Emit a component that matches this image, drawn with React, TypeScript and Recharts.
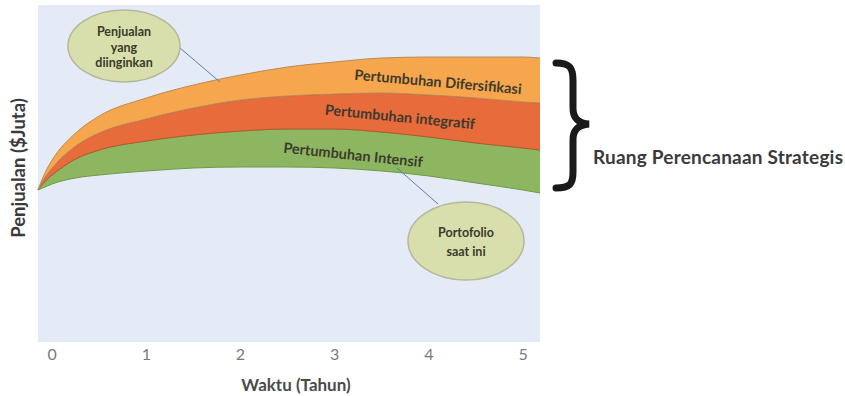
import React from "react";
import { AreaChart, Area, XAxis, YAxis, CartesianGrid } from "recharts";

// tahun (x) dan penjualan (y, satuan relatif) tiap batas pita
const years = [-0.15, -0.1, -0.05, 0, 0.25, 0.5, 1, 1.5, 2, 2.5, 3, 3.5, 4, 4.5, 5, 5.18];
const portofolioSaatIni = [152, 154, 156, 158, 164, 167, 171, 174, 175, 175, 174, 171, 166, 159, 152, 149];
const intensif = [152, 158, 163, 167, 183, 192, 201, 207, 211, 213, 213, 210, 205, 199, 194, 192];
const integratif = [152, 161, 168, 174, 196, 209, 223, 234, 242, 246, 248, 249, 247, 244, 240, 239];
const diversifikasi = [152, 164, 174, 182, 209, 226, 244, 257, 267, 275, 280, 284, 285, 285, 285, 284];
const xTicks = [0, 1, 2, 3, 4, 5];

const chartData = years.map((t, i) => ({
  tahun: t,
  hijau: [portofolioSaatIni[i], intensif[i]],
  merah: [intensif[i], integratif[i]],
  oranye: [integratif[i], diversifikasi[i]],
}));

const FONT = "Lato, 'Open Sans', sans-serif";

export default function App() {
  return (
    <div style={{ position: "absolute", left: 0, top: 0, width: 845, height: 396, background: "#fff" }}>
      <AreaChart
        width={845}
        height={396}
        data={chartData}
        margin={{ top: 5, left: 38, right: 305, bottom: 24 }}
      >
        <CartesianGrid horizontal={false} vertical={false} fill="#e4ebf6" />
        <XAxis
          dataKey="tahun"
          type="number"
          domain={[-0.15, 5.18]}
          ticks={xTicks}
          axisLine={false}
          tickLine={false}
          tickMargin={1}
          height={30}
          tick={{ fill: "#7a7a7a", fontSize: 16, fontFamily: FONT }}
        />
        <YAxis hide domain={[0, 337]} />
        <Area
          type="monotone"
          dataKey="hijau"
          fill="#8cb65f"
          fillOpacity={1}
          stroke="#6f9a48"
          strokeWidth={1}
          isAnimationActive={false}
        />
        <Area
          type="monotone"
          dataKey="merah"
          fill="#e86b3c"
          fillOpacity={1}
          stroke="#b9552f"
          strokeWidth={1}
          isAnimationActive={false}
        />
        <Area
          type="monotone"
          dataKey="oranye"
          fill="#f6a64c"
          fillOpacity={1}
          stroke="#b98a5a"
          strokeWidth={1}
          isAnimationActive={false}
        />
      </AreaChart>

      {/* anotasi di atas grafik */}
      <svg
        width={845}
        height={396}
        style={{ position: "absolute", left: 0, top: 0, pointerEvents: "none" }}
        fontFamily={FONT}
      >
        <line x1={180} y1={48} x2={220} y2={82} stroke="#5d7fa3" strokeWidth={1} />
        <ellipse cx={124} cy={46} rx={56} ry={36} fill="#d8dfac" stroke="#b4b89a" strokeWidth={1.5} />
        <g fill="#3a3a2a" fontSize={12.5} fontWeight={700} textAnchor="middle">
          <text x={124} y={36}>Penjualan</text>
          <text x={124} y={52}>yang</text>
          <text x={124} y={67}>diinginkan</text>
        </g>

        <line x1={397} y1={168} x2={438} y2={204} stroke="#5d7fa3" strokeWidth={1} />
        <ellipse cx={466} cy={241} rx={58} ry={39} fill="#d8dfac" stroke="#b4b89a" strokeWidth={1.5} />
        <g fill="#3a3a2a" fontSize={12.5} fontWeight={700} textAnchor="middle">
          <text x={466} y={237}>Portofolio</text>
          <text x={466} y={256}>saat ini</text>
        </g>

        <g fill="#3d3a2e" fontSize={14.5} fontWeight={700} textAnchor="middle">
          <text x={438} y={87} transform="rotate(5 438 82)">Pertumbuhan Difersifikasi</text>
          <text x={400} y={122} transform="rotate(5.5 400 117)">Pertumbuhan integratif</text>
          <text x={353} y={160} transform="rotate(6 353 155)">Pertumbuhan Intensif</text>
        </g>

        <path
          d="M556 63 C570 63 573 68 573 80 L573 108 C573 118 578 123 589 124 C578 125 573 130 573 140 L573 172 C573 184 570 188 556 188"
          fill="none"
          stroke="#1a1a1a"
          strokeWidth={7}
          strokeLinecap="round"
        />
        <text x={593} y={164} fontSize={19} fontWeight={700} fill="#3a3a3a" textLength={250}>
          Ruang Perencanaan Strategis
        </text>

        <text
          x={25}
          y={168}
          transform="rotate(-90 25 168)"
          textAnchor="middle"
          fontSize={18.5}
          fontWeight={700}
          fill="#3a3a3a"
        >
          Penjualan ($Juta)
        </text>
        <text x={296} y={391} textAnchor="middle" fontSize={17} fontWeight={700} fill="#4a4a4a">
          Waktu (Tahun)
        </text>
      </svg>
    </div>
  );
}
